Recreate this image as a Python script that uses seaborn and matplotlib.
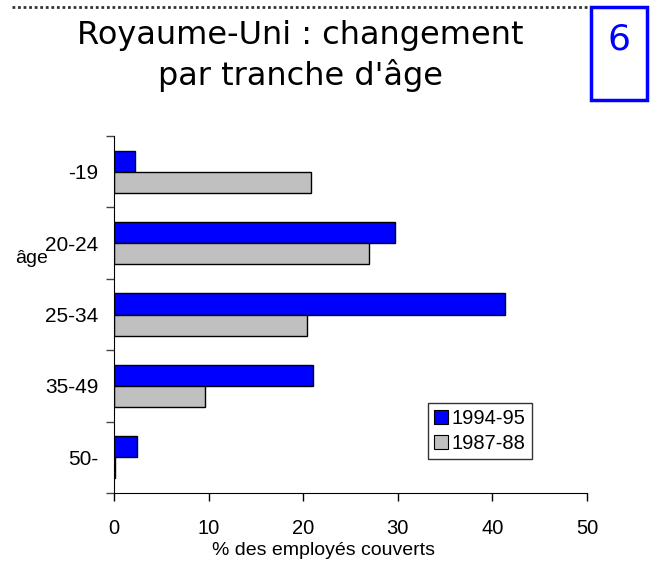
import numpy as np
import pandas as pd
import seaborn as sns
import matplotlib.pyplot as plt
from matplotlib.lines import Line2D
from matplotlib.patches import Rectangle

# data
ages = ["-19", "20-24", "25-34", "35-49", "50-"]
years = ["1994-95", "1987-88"]
cov_1994 = [2.2, 29.7, 41.3, 21.0, 2.4]
cov_1987 = [20.8, 27.0, 20.4, 9.6, 0.15]
colors = ["#0000FF", "#C0C0C0"]

df = pd.DataFrame({
    "age": ages * 2,
    "year": [years[0]] * len(ages) + [years[1]] * len(ages),
    "pct": cov_1994 + cov_1987,
})

sns.set_style("ticks")
plt.rcParams["font.family"] = ["Liberation Sans", "DejaVu Sans"]
plt.rcParams["text.color"] = "black"
plt.rcParams["xtick.labelcolor"] = "black"
plt.rcParams["ytick.labelcolor"] = "black"
plt.rcParams["axes.labelcolor"] = "black"

fig = plt.figure(figsize=(6.6, 5.68), dpi=100)
ax = fig.add_axes([0.1727, 0.132, 0.7167, 0.6286])

sns.barplot(data=df, y="age", x="pct", hue="year", order=ages, hue_order=years,
            palette=colors, width=0.59, orient="h", edgecolor="black",
            linewidth=1.0, saturation=1, ax=ax)

ax.set_xlim(0, 50)
ax.set_ylim(4.5, -0.5)
ax.set_xticks([0, 10, 20, 30, 40, 50])
ax.set_xticklabels(["0", "10", "20", "30", "40", "50"])
ax.tick_params(axis="x", length=6, width=1, pad=13, labelsize=14.5, color="black")
# labels at band centres, tick marks at band boundaries
ax.set_yticks(np.arange(len(ages)))
ax.set_yticklabels(ages)
ax.set_yticks(np.arange(-0.5, len(ages)), minor=True)
ax.tick_params(axis="y", which="major", length=0, pad=11, labelsize=15)
ax.tick_params(axis="y", which="minor", length=6, width=1, color="#444444")

for s in ["top", "right"]:
    ax.spines[s].set_visible(False)
ax.spines["left"].set_color("black")
ax.spines["bottom"].set_color("black")

ax.set_xlabel("% des employés couverts", fontsize=14)
ax.xaxis.set_label_coords(0.442, -0.138)
ax.set_ylabel("âge", rotation=0, fontsize=14, ha="left", va="baseline")
ax.yaxis.set_label_coords(-0.209, 0.645)

ax.legend_.remove()
handles = [Rectangle((0, 0), 1, 1, facecolor=c, edgecolor="black", linewidth=0.8)
           for c in colors]
leg = fig.legend(handles, years, loc="upper left", bbox_to_anchor=(0.648, 0.291),
                 fontsize=14.5, frameon=True, fancybox=False, handlelength=0.7,
                 handleheight=0.7, handletextpad=0.2, borderpad=0.3,
                 labelspacing=0.3, borderaxespad=0)
leg.get_frame().set_edgecolor("black")
leg.get_frame().set_linewidth(1.0)

# title block
fig.text(300 / 660, 1 - 56 / 568, "Royaume-Uni : changement\npar tranche d'âge",
         ha="center", va="center", fontsize=23, linespacing=1.3,
         family=["DejaVu Sans"])
fig.add_artist(Line2D([12 / 660, 590 / 660], [1 - 7 / 568, 1 - 7 / 568],
                      transform=fig.transFigure, color="#333333",
                      linestyle=(0, (1, 1)), linewidth=2))
fig.add_artist(Rectangle((591 / 660, 1 - 100 / 568), 56 / 660, 93 / 568,
                         transform=fig.transFigure, fill=False,
                         edgecolor="#0000FF", linewidth=2.5))
fig.text(619 / 660, 1 - 40 / 568, "6", ha="center", va="center",
         fontsize=26, color="#0000FF", family=["DejaVu Sans"])

fig.savefig("out.png", dpi=100)
